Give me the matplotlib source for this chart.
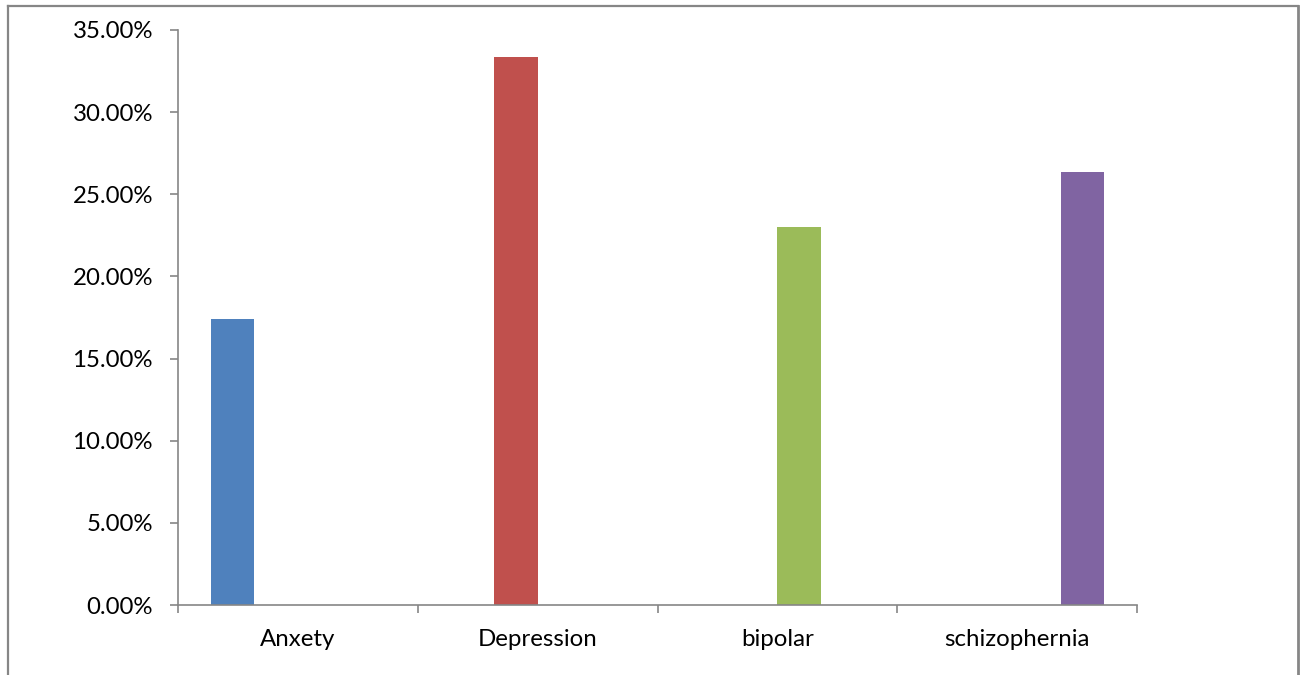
import matplotlib
matplotlib.use("Agg")
import matplotlib.pyplot as plt
from matplotlib.lines import Line2D
from matplotlib.ticker import FixedLocator, PercentFormatter
import numpy as np

categories = ["Anxety", "Depression", "bipolar", "schizophernia"]
values = [17.41, 33.36, 23.01, 26.36]
colors = ["#4F81BD", "#C0504D", "#9BBB59", "#8064A2"]
yticks = [0, 5, 10, 15, 20, 25, 30, 35]

plt.rcParams["font.family"] = ["Lato", "DejaVu Sans"]
axis_gray = "#868686"

fig = plt.figure(figsize=(13.01, 6.75), dpi=100)
ax = fig.add_axes([178 / 1301, 1 - 605 / 675, (1137 - 178) / 1301, (605 - 30) / 675])

# Clustered layout: each series holds one category, drawn side by side
n = len(categories)
width = 0.1815
x = np.arange(n)
for i, (val, col) in enumerate(zip(values, colors)):
    offset = (i - (n - 1) / 2) * width
    heights = [val if j == i else 0 for j in range(n)]
    ax.bar(x + offset, heights, width=width, color=col, linewidth=0)

ax.set_xlim(-0.5, n - 0.5)
ax.set_ylim(0, 35)

for side in ["top", "right"]:
    ax.spines[side].set_visible(False)
for side in ["left", "bottom"]:
    ax.spines[side].set_color(axis_gray)
    ax.spines[side].set_linewidth(1.2)

ax.yaxis.set_major_locator(FixedLocator(yticks))
ax.yaxis.set_major_formatter(PercentFormatter(decimals=2))
ax.tick_params(axis="y", direction="out", length=6, width=1.2, color=axis_gray,
               labelsize=17.3, pad=12, labelcolor="black")

ax.xaxis.set_major_locator(FixedLocator(np.arange(-0.5, n, 1.0)))
ax.xaxis.set_major_formatter(plt.NullFormatter())
ax.xaxis.set_minor_locator(FixedLocator(x))
ax.set_xticklabels(categories, minor=True)
ax.tick_params(axis="x", which="major", direction="out", length=6, width=1.2, color=axis_gray)
ax.tick_params(axis="x", which="minor", length=0, labelsize=17.3, pad=17, labelcolor="black")

# Outer chart border
fig.add_artist(Line2D([8 / 1301, 8 / 1301], [0, 1 - 5.5 / 675], color=axis_gray, lw=1.6,
                      transform=fig.transFigure))
fig.add_artist(Line2D([8 / 1301, 1297.5 / 1301], [1 - 5.5 / 675, 1 - 5.5 / 675], color=axis_gray, lw=1.6,
                      transform=fig.transFigure))
fig.add_artist(Line2D([1297.5 / 1301, 1297.5 / 1301], [0, 1 - 5.5 / 675], color=axis_gray, lw=2.0,
                      transform=fig.transFigure))

fig.savefig("out.png", dpi=100)
